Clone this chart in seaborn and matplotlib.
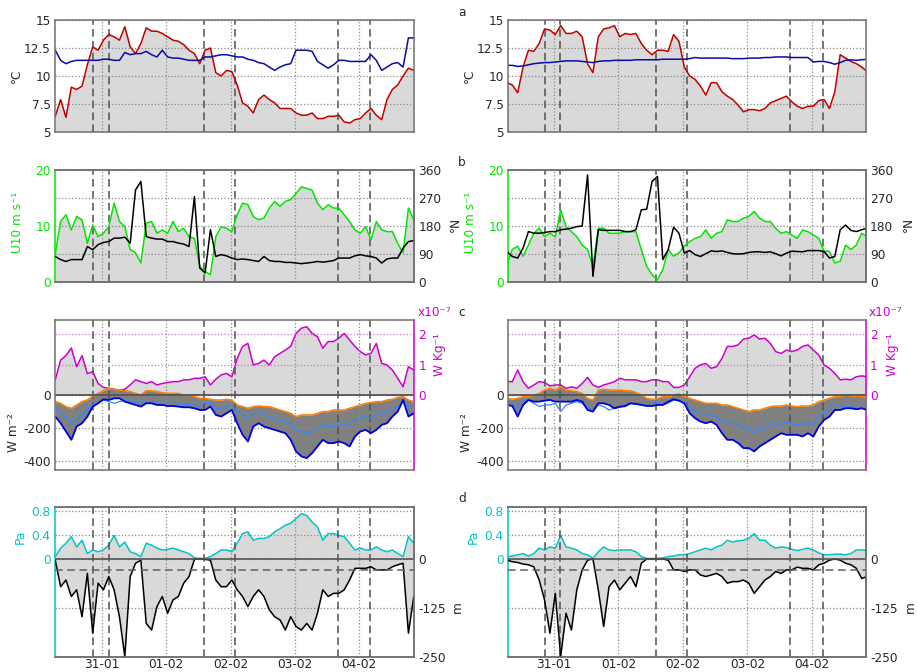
import numpy as np
import matplotlib
matplotlib.use('Agg')
import matplotlib.pyplot as plt
import seaborn as sns

# time axis: hours since 31-01 00:00, 2-hourly samples
hours = np.arange(-17.5, 117, 2)
day_ticks = [0, 24, 48, 72, 96]
day_labels = ['31-01', '01-02', '02-02', '03-02', '04-02']
events = [-3.3, 2.4, 38.0, 49.5, 88.0, 100.2]
mld_ref = -28

# ---- left column ----
air_l = [6.4, 7.9, 6.3, 9.0, 8.8, 9.1, 11.0, 12.6, 12.3, 13.2, 13.7, 13.5, 13.2, 14.4, 12.6, 12.0, 12.9,
         14.3, 14.0, 14.0, 13.8, 13.5, 13.2, 13.1, 12.8, 12.3, 12.0, 11.1, 12.3, 12.5, 10.3, 10.0, 10.5,
         10.4, 9.2, 7.6, 7.3, 6.7, 7.9, 8.3, 7.9, 7.6, 7.1, 7.1, 7.1, 6.7, 6.5, 6.5, 6.7, 6.2, 6.2, 6.4,
         6.4, 6.5, 5.9, 5.8, 6.1, 6.2, 6.7, 7.1, 6.5, 6.1, 7.9, 8.8, 9.2, 10.0, 10.7, 10.5]
sea_l = [12.3, 11.4, 11.1, 11.3, 11.4, 11.4, 11.4, 11.4, 11.4, 11.5, 11.5, 11.4, 11.4, 12.1, 11.9, 12.0,
         12.0, 12.2, 11.9, 11.7, 12.3, 11.7, 11.6, 11.6, 11.5, 11.4, 11.4, 11.4, 11.7, 11.7, 11.8, 11.9,
         11.9, 11.8, 11.7, 11.7, 11.5, 11.4, 11.2, 11.1, 10.8, 10.5, 10.8, 11.0, 11.1, 12.3, 12.3, 12.3,
         12.2, 11.3, 11.0, 10.7, 11.0, 11.4, 11.4, 11.3, 11.3, 11.3, 11.3, 11.9, 11.4, 10.5, 10.8, 11.1,
         11.2, 10.8, 13.4, 13.4]
u10_l = [5.0, 10.8, 12.0, 9.3, 11.7, 11.1, 6.9, 10.2, 8.1, 8.7, 9.9, 14.1, 10.8, 9.9, 5.8, 5.2, 3.4, 10.5,
         10.8, 8.7, 9.3, 8.7, 10.8, 9.0, 9.6, 8.1, 7.8, 2.8, 1.9, 1.3, 8.1, 9.9, 9.6, 9.0, 12.0, 14.1, 13.8,
         11.7, 11.1, 11.4, 13.2, 14.4, 13.5, 14.4, 14.7, 15.8, 17.0, 16.7, 16.4, 14.1, 12.9, 13.8, 13.2,
         13.2, 12.0, 10.8, 9.3, 8.7, 9.9, 7.5, 10.8, 9.3, 9.0, 9.0, 6.9, 5.2, 13.2, 11.1]
wdir_l = [82, 72, 66, 72, 72, 72, 114, 104, 120, 127, 130, 141, 141, 144, 125, 296, 323, 146, 141, 138,
          138, 130, 130, 125, 122, 114, 274, 45, 29, 168, 82, 88, 84, 77, 72, 74, 72, 69, 66, 82, 69, 66,
          66, 63, 63, 61, 59, 61, 63, 66, 64, 66, 69, 77, 77, 77, 84, 88, 84, 82, 77, 61, 74, 77, 77, 109,
          130, 133]
eps_l = [0.5, 1.15, 1.3, 1.55, 0.93, 1.3, 0.7, 0.77, 0.38, 0.25, 0.22, 0.19, 0.16, 0.19, 0.33, 0.5, 0.44,
         0.38, 0.44, 0.33, 0.38, 0.41, 0.44, 0.44, 0.5, 0.5, 0.55, 0.55, 0.6, 0.33, 0.52, 0.66, 0.71, 0.6,
         1.2, 1.6, 1.7, 0.99, 1.04, 1.15, 0.99, 1.26, 1.37, 1.48, 1.6, 2.03, 2.2, 2.25, 2.03, 1.92, 1.54,
         1.76, 1.76, 1.87, 2.03, 1.81, 1.6, 1.43, 1.32, 1.37, 1.7, 1.04, 0.99, 0.82, 0.55, 0.27, 0.93, 0.82]
qlat_l = [-40, -50, -70, -80, -60, -40, -30, -6, 10, 26, 40, 34, 30, 26, 20, 10, 0, 26, 26, 20, 14, 10, 10,
          10, 0, 0, -10, -20, -20, -26, -30, -30, -26, -30, -60, -70, -80, -70, -66, -70, -70, -80, -90,
          -100, -110, -130, -120, -120, -120, -110, -100, -100, -90, -90, -90, -80, -70, -60, -50, -46, -40,
          -40, -30, -26, -14, -10, -30, -40]
qmid_l = [-70, -120, -130, -170, -150, -120, -90, -60, -50, -30, -40, -50, -40, -30, -40, -46, -50, -40,
          -40, -50, -50, -50, -50, -54, -54, -60, -60, -70, -40, -50, -80, -80, -66, -60, -100, -120, -140,
          -110, -110, -120, -130, -140, -150, -160, -180, -210, -220, -230, -220, -200, -180, -190, -190,
          -180, -180, -170, -150, -140, -130, -140, -120, -110, -100, -90, -66, -40, -70, -60]
qnet_l = [-130, -170, -220, -270, -190, -170, -130, -70, -50, -26, -30, -20, -20, -40, -50, -60, -70, -50,
          -50, -60, -60, -66, -66, -70, -74, -74, -80, -90, -90, -70, -120, -130, -110, -90, -170, -240,
          -280, -190, -170, -190, -200, -210, -220, -230, -270, -340, -370, -380, -350, -310, -270, -290,
          -290, -280, -290, -310, -250, -220, -210, -230, -210, -180, -170, -130, -100, -30, -130, -110]
tau_l = [0.04, 0.18, 0.26, 0.37, 0.2, 0.31, 0.09, 0.15, 0.12, 0.15, 0.23, 0.39, 0.2, 0.28, 0.12, 0.09,
         0.04, 0.26, 0.23, 0.18, 0.15, 0.16, 0.18, 0.15, 0.12, 0.09, 0.02, 0.01, 0.01, 0.04, 0.09, 0.15,
         0.15, 0.12, 0.26, 0.42, 0.45, 0.31, 0.34, 0.34, 0.37, 0.45, 0.5, 0.56, 0.59, 0.67, 0.75, 0.72,
         0.61, 0.53, 0.31, 0.42, 0.42, 0.39, 0.37, 0.26, 0.15, 0.18, 0.15, 0.15, 0.2, 0.15, 0.12, 0.15,
         0.09, 0.04, 0.37, 0.26]
mld_l = [-3, -71, -54, -96, -79, -148, -37, -190, -62, -79, -45, -79, -148, -250, -45, -11, -3, -165, -182,
         -122, -96, -139, -105, -96, -62, -45, -1, 0, -1, -3, -54, -71, -71, -54, -79, -96, -122, -96, -79,
         -96, -130, -148, -156, -182, -148, -173, -182, -165, -182, -139, -79, -96, -88, -88, -79, -54, -24,
         -24, -24, -20, -28, -28, -28, -20, -15, -11, -190, -96]

# ---- right column ----
air_r = [9.4, 9.2, 8.5, 10.8, 12.3, 12.2, 12.9, 14.2, 14.1, 13.7, 14.5, 13.8, 13.8, 14.0, 13.5, 11.1, 10.3,
         13.5, 14.2, 14.3, 14.5, 13.5, 13.8, 13.7, 13.8, 12.9, 12.3, 11.9, 12.3, 12.3, 12.2, 13.7, 13.1,
         10.8, 10.0, 9.7, 9.1, 8.3, 9.4, 9.4, 8.6, 8.2, 7.9, 7.4, 6.8, 7.0, 7.0, 6.9, 7.1, 7.6, 7.8, 8.0,
         8.2, 7.7, 7.3, 7.1, 7.3, 7.3, 7.8, 7.9, 7.1, 8.6, 11.9, 11.6, 11.3, 11.1, 10.8, 10.4]
sea_r = [10.95, 10.95, 10.85, 10.9, 11.0, 11.1, 11.15, 11.2, 11.2, 11.25, 11.3, 11.35, 11.35, 11.35, 11.3,
         11.25, 11.2, 11.3, 11.35, 11.35, 11.4, 11.4, 11.4, 11.4, 11.45, 11.45, 11.45, 11.45, 11.45, 11.5,
         11.5, 11.5, 11.5, 11.5, 11.55, 11.65, 11.6, 11.6, 11.6, 11.6, 11.6, 11.6, 11.55, 11.55, 11.55,
         11.6, 11.6, 11.6, 11.65, 11.65, 11.7, 11.7, 11.7, 11.65, 11.65, 11.65, 11.65, 11.25, 11.3, 11.3,
         11.2, 11.05, 11.2, 11.4, 11.45, 11.4, 11.45, 11.5]
u10_r = [3.1, 5.8, 6.4, 4.6, 6.6, 8.7, 9.6, 8.1, 8.7, 8.1, 12.9, 9.9, 9.0, 8.1, 6.6, 5.8, 2.8, 9.6, 9.6,
         8.7, 8.7, 8.7, 9.0, 9.0, 9.0, 5.8, 2.8, 1.3, 0.4, 2.2, 5.8, 4.6, 5.2, 6.4, 7.2, 7.8, 8.1, 9.3, 7.8,
         8.7, 9.0, 11.1, 10.8, 10.8, 11.4, 11.7, 12.6, 11.4, 10.8, 10.8, 9.6, 8.7, 9.0, 8.4, 7.8, 9.3, 9.0,
         8.4, 7.8, 5.5, 5.5, 3.4, 3.7, 6.6, 5.8, 6.6, 8.7, 8.1]
wdir_r = [98, 82, 77, 109, 162, 157, 157, 159, 162, 162, 168, 170, 173, 178, 180, 344, 18, 168, 166, 166,
          166, 166, 162, 162, 168, 232, 234, 323, 339, 72, 104, 176, 157, 93, 101, 88, 82, 91, 100, 98,
          100, 95, 91, 90, 91, 95, 97, 97, 95, 97, 91, 84, 93, 99, 98, 97, 101, 101, 101, 98, 77, 82, 168,
          183, 166, 162, 168, 173]
eps_r = [0.44, 0.44, 0.82, 0.44, 0.22, 0.33, 0.44, 0.41, 0.3, 0.33, 0.33, 0.22, 0.27, 0.22, 0.38, 0.58,
         0.33, 0.25, 0.33, 0.38, 0.44, 0.55, 0.5, 0.5, 0.5, 0.44, 0.44, 0.5, 0.5, 0.44, 0.44, 0.25, 0.25,
         0.33, 0.6, 0.88, 0.99, 1.04, 0.88, 0.93, 1.2, 1.6, 1.6, 1.65, 1.84, 1.87, 1.98, 1.84, 1.87, 1.7,
         1.43, 1.37, 1.48, 1.43, 1.48, 1.6, 1.65, 1.48, 1.32, 0.99, 0.88, 0.71, 0.5, 0.52, 0.5, 0.6, 0.63, 0.6]
qlat_r = [-20, -26, -20, -10, -10, 0, 10, 30, 40, 30, 50, 30, 26, 20, 10, -20, -30, 30, 34, 30, 30, 30,
          26, 26, 14, 0, -20, -26, -20, -10, -10, 0, 6, -10, -20, -30, -40, -50, -50, -50, -60, -60, -70,
          -80, -90, -100, -90, -90, -80, -70, -66, -66, -60, -66, -70, -66, -66, -60, -40, -30, -20, -10,
          -10, 0, -6, -6, -10, -10]
qmid_r = [-50, -54, -80, -40, -30, -50, -70, -60, -60, -50, -100, -60, -50, -40, -50, -80, -90, -60, -70,
          -90, -80, -74, -70, -50, -54, -50, -54, -50, -46, -60, -50, -30, -34, -50, -80, -100, -110, -110,
          -120, -140, -150, -170, -170, -180, -200, -200, -230, -200, -200, -180, -166, -180, -166, -170,
          -180, -174, -166, -180, -130, -106, -90, -60, -66, -70, -70, -80, -80, -80]
qnet_r = [-60, -66, -130, -60, -30, -40, -40, -34, -30, -40, -40, -40, -40, -30, -40, -90, -100, -50, -50,
          -60, -80, -70, -66, -50, -54, -60, -66, -66, -60, -60, -40, -26, -34, -50, -110, -140, -160,
          -170, -160, -180, -230, -270, -270, -290, -320, -320, -340, -310, -290, -270, -250, -230, -240,
          -240, -240, -250, -230, -250, -190, -150, -130, -90, -90, -80, -80, -86, -80, -90]
tau_r = [0.04, 0.05, 0.07, 0.09, 0.05, 0.09, 0.18, 0.15, 0.2, 0.18, 0.39, 0.2, 0.18, 0.15, 0.09, 0.07,
         0.01, 0.12, 0.2, 0.15, 0.14, 0.15, 0.15, 0.15, 0.12, 0.04, 0.01, 0.01, 0.01, 0.02, 0.04, 0.05,
         0.07, 0.07, 0.09, 0.12, 0.15, 0.18, 0.15, 0.2, 0.23, 0.31, 0.28, 0.3, 0.31, 0.34, 0.42, 0.31,
         0.31, 0.23, 0.18, 0.2, 0.19, 0.16, 0.14, 0.16, 0.18, 0.15, 0.1, 0.07, 0.07, 0.08, 0.08, 0.07,
         0.09, 0.15, 0.15, 0.14]
mld_r = [-3, -7, -9, -13, -15, -20, -54, -105, -190, -88, -250, -139, -182, -79, -28, -3, 0, -79, -173,
         -71, -54, -79, -62, -45, -71, -11, 0, 0, 0, 0, -3, -28, -28, -32, -28, -28, -41, -45, -41, -37,
         -45, -62, -58, -58, -54, -62, -88, -71, -54, -45, -32, -37, -28, -28, -21, -24, -24, -28, -15,
         -11, -3, 0, -3, -11, -15, -24, -50, -45]

sns.set_style('white')
plt.rcParams['font.family'] = ['DejaVu Sans']
plt.rcParams['font.size'] = 8.7

RED = '#c00000'
NAVY = '#0a0aa5'
GREEN = '#00e600'
MAG = '#cc00cc'
ORANGE = '#ff8000'
LBLUE = '#2b8cff'
BLUE = '#0000e0'
CYAN = '#00c4c4'
FILL = '#d9d9d9'
DARKFILL = '#808080'
FRAME = '#707070'
GRID = '#8a8a8a'

W, H = 917, 672


def rect(x0, x1, y0, y1):
    return [x0 / W, 1 - y1 / H, (x1 - x0) / W, (y1 - y0) / H]


fig = plt.figure(figsize=(W / 100, H / 100), dpi=100)


def line(ax, y, color, lw=1.1):
    sns.lineplot(x=hours, y=y, color=color, lw=lw, ax=ax, estimator=None, legend=False)


def style(ax, xlim, bottom=False, twin=False):
    if not twin:
        ax.set_xlim(*xlim)
        ax.set_xticks(day_ticks)
        ax.set_xticklabels(day_labels if bottom else [])
    ax.tick_params(length=0, pad=3)
    ax.tick_params(axis='x', pad=0.8)
    ax.set_xlabel('')
    for s in ax.spines.values():
        s.set_color(FRAME)
        s.set_linewidth(1.1)


def guides(ax):
    for h in day_ticks:
        ax.axvline(h, color=GRID, ls=':', lw=0.9, zorder=1.6)
    for h in events:
        ax.axvline(h, color='#505050', ls=(0, (5, 2.8)), lw=1.1, zorder=1.7)


def hgrid(ax, color=GRID):
    ax.yaxis.grid(True, ls=':', color=color, lw=0.9)
    ax.set_axisbelow('line')


def column(x0, x1, xlim, air, sea, u10, wdir, eps, qlat, qmid, qnet, tau, mld):
    wpx = x1 - x0

    # a: temperatures
    ax = fig.add_axes(rect(x0, x1, 20, 132))
    ax.fill_between(hours, 5, air, color=FILL, lw=0)
    line(ax, air, RED)
    line(ax, sea, NAVY)
    ax.set_ylim(5, 15)
    ax.set_yticks([5, 7.5, 10, 12.5, 15])
    ax.set_yticklabels(['5', '7.5', '10', '12.5', '15'])
    hgrid(ax)
    guides(ax)
    style(ax, xlim)
    ax.set_ylabel('°C')
    ax.yaxis.set_label_coords(-32 / wpx, 0.5)

    # b: wind speed and direction
    ax = fig.add_axes(rect(x0, x1, 170, 282))
    ax2 = ax.twinx()
    ax.fill_between(hours, 0, u10, color=FILL, lw=0)
    line(ax, u10, GREEN)
    guides(ax)
    line(ax2, wdir, 'black')
    ax.set_ylim(0, 20)
    ax.set_yticks([0, 10, 20])
    ax2.set_ylim(0, 360)
    ax2.set_yticks([0, 90, 180, 270, 360])
    hgrid(ax2)
    style(ax2, xlim, twin=True)
    style(ax, xlim)
    ax.tick_params(axis='y', labelcolor=GREEN)
    ax2.spines['left'].set_visible(False)
    ax.spines['left'].set_color(GREEN)
    ax.set_ylabel('U10 m s⁻¹', color=GREEN)
    ax.yaxis.set_label_coords(-31 / wpx, 0.53)
    ax2.set_ylabel('°N', rotation=90)
    ax2.yaxis.set_label_coords(394 / wpx, 0.51)

    # c: dissipation and heat fluxes
    ax = fig.add_axes(rect(x0, x1, 320, 470))
    ax2 = ax.twinx()
    ax.set_zorder(ax2.get_zorder() + 1)
    ax.patch.set_visible(False)
    e = np.array(eps) * 1e-7
    ax2.fill_between(hours, 0, e, color=FILL, lw=0)
    line(ax2, e, MAG)
    ax2.set_ylim(-2.47e-7, 2.47e-7)
    ax2.set_yticks([0, 1e-7, 2e-7])
    ax2.set_yticklabels(['0', '1', '2'])
    hgrid(ax2, color='#d070d0')
    ax.fill_between(hours, qlat, qnet, color=DARKFILL, lw=0)
    line(ax, qlat, ORANGE)
    line(ax, qmid, LBLUE, lw=0.9)
    line(ax, qnet, BLUE, lw=1.3)
    ax.axhline(0, color='#555555', lw=1.3, zorder=2.5)
    ax.set_ylim(-452, 452)
    ax.set_yticks([0, -200, -400])
    ax.set_yticklabels(['0', '-200', '-400'])
    hgrid(ax)
    guides(ax)
    style(ax2, xlim, twin=True)
    style(ax, xlim)
    ax2.tick_params(axis='y', labelcolor=MAG)
    for k in ['left', 'top', 'bottom']:
        ax2.spines[k].set_visible(False)
    ax.spines['right'].set_visible(False)
    ax2.spines['right'].set_color(MAG)
    ax.set_ylabel('W m⁻²')
    ax.yaxis.set_label_coords(-35 / wpx, 0.25)
    ax2.set_ylabel('W Kg⁻¹', color=MAG, rotation=90)
    ax2.yaxis.set_label_coords(378 / wpx, 0.77)
    ax2.text(1 + 3 / wpx, 1.01, 'x10⁻⁷', color=MAG, transform=ax2.transAxes,
             ha='left', va='bottom')

    # d: wind stress and mixed layer depth
    ax = fig.add_axes(rect(x0, x1, 507, 657))
    ax2 = ax.twinx()
    ax.fill_between(hours, 0, tau, color=FILL, lw=0)
    line(ax, tau, CYAN)
    ax.set_ylim(-1.62, 0.86)
    ax.set_yticks([0, 0.4, 0.8])
    ax.set_yticklabels(['0', '0.4', '0.8'])
    hgrid(ax)
    ax2.fill_between(hours, 0, mld, color=FILL, lw=0)
    guides(ax2)
    line(ax2, mld, 'black')
    ax2.axhline(mld_ref, color='#606060', ls=(0, (5, 3)), lw=1.1)
    ax2.axhline(0, color='#555555', lw=1.2)
    ax2.set_ylim(-251, 133)
    ax2.set_yticks([-250, -125, 0])
    ax2.set_yticklabels(['-250', '-125', '0'])
    hgrid(ax2)
    style(ax2, xlim, twin=True)
    style(ax, xlim, bottom=True)
    ax.tick_params(axis='y', labelcolor=CYAN)
    ax2.spines['left'].set_visible(False)
    ax.spines['left'].set_color(CYAN)
    ax.set_ylabel('Pa', color=CYAN)
    ax.yaxis.set_label_coords(-28 / wpx, 0.8)
    ax2.set_ylabel('m', rotation=90)
    ax2.yaxis.set_label_coords(396 / wpx, 0.33)


column(55, 414.3, (-17.6, 116.7), air_l, sea_l, u10_l, wdir_l, eps_l,
       qlat_l, qmid_l, qnet_l, tau_l, mld_l)
column(508, 866, (-17.1, 116.1), air_r, sea_r, u10_r, wdir_r, eps_r,
       qlat_r, qmid_r, qnet_r, tau_r, mld_r)

for lab, y in zip('abcd', [13, 163, 313, 498]):
    fig.text(462 / W, 1 - y / H, lab, ha='center', va='center')

fig.savefig('out.png', dpi=100)
